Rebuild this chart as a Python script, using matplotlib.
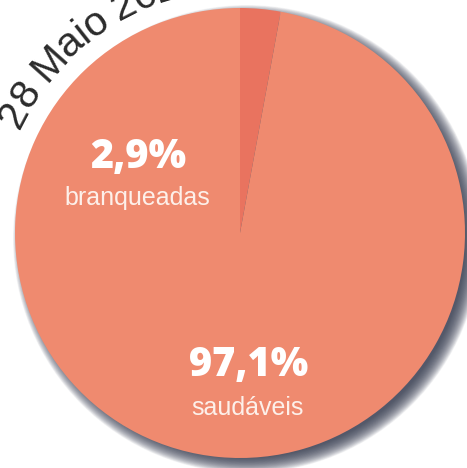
import matplotlib

matplotlib.use("Agg")

import matplotlib.pyplot as plt
import numpy as np
from matplotlib.patches import Circle
from matplotlib.textpath import TextToPath
from matplotlib.font_manager import FontProperties

labels = ["branqueadas", "saudáveis"]
values = [2.9, 97.1]
pct_text = ["2,9%", "97,1%"]
colors = ["#e9735f", "#ef8a6f"]
arc_title = "28 Maio 2021"

W, H = 467, 468
fig = plt.figure(figsize=(W / 100, H / 100), dpi=100)
ax = fig.add_axes([0, 0, 1, 1])
ax.set_xlim(0, W)
ax.set_ylim(0, H)
ax.set_aspect("equal")
ax.axis("off")

cx, cy, R = 240, H - 233, 225

# soft shadow, offset to the lower right
n = 40
for i in range(n):
    r = R + 9 - 16 * i / n
    ax.add_patch(Circle((cx + 7, cy - 6), r, color="#3c4256", alpha=0.045, lw=0, zorder=1))

ax.pie(values, colors=colors, startangle=90, counterclock=False, center=(cx, cy),
       radius=R, wedgeprops={"linewidth": 0, "zorder": 2}, frame=True)
ax.set_xlim(0, W)
ax.set_ylim(0, H)
ax.axis("off")

# labels inside the pie
pct_pos = [(138, 157), (249, 366)]
lab_pos = [(137, 198), (247, 408)]
for p, lab, (px, py), (lx, ly) in zip(pct_text, labels, pct_pos, lab_pos):
    ax.text(px, H - py, p, color="white", fontsize=28.5, fontweight="extra bold",
            family="Open Sans", ha="center", va="center", zorder=5)
    ax.text(lx, H - ly, lab, color="#fdf0ea", fontsize=18, family="Liberation Sans",
            ha="center", va="center", zorder=5)

# date written along the rim
fp = FontProperties(family="Liberation Sans", size=29.5)
t2p = TextToPath()
r_text = 255
ang = np.deg2rad(152.3)
first = True
for ch in arc_title:
    w = t2p.get_text_width_height_descent(ch, fp, ismath=False)[0] * 100 / 72
    if not first:
        ang -= (w / 2) / r_text
    x = cx + r_text * np.cos(ang)
    y = cy + r_text * np.sin(ang)
    if ch != " ":
        ax.text(x, y, ch, fontproperties=fp, color="#2b2b2b", rotation=np.rad2deg(ang) - 90,
                rotation_mode="anchor", ha="center", va="center", zorder=6)
    ang -= (w / 2) / r_text
    first = False

fig.savefig("out.png", dpi=100, facecolor="white")
